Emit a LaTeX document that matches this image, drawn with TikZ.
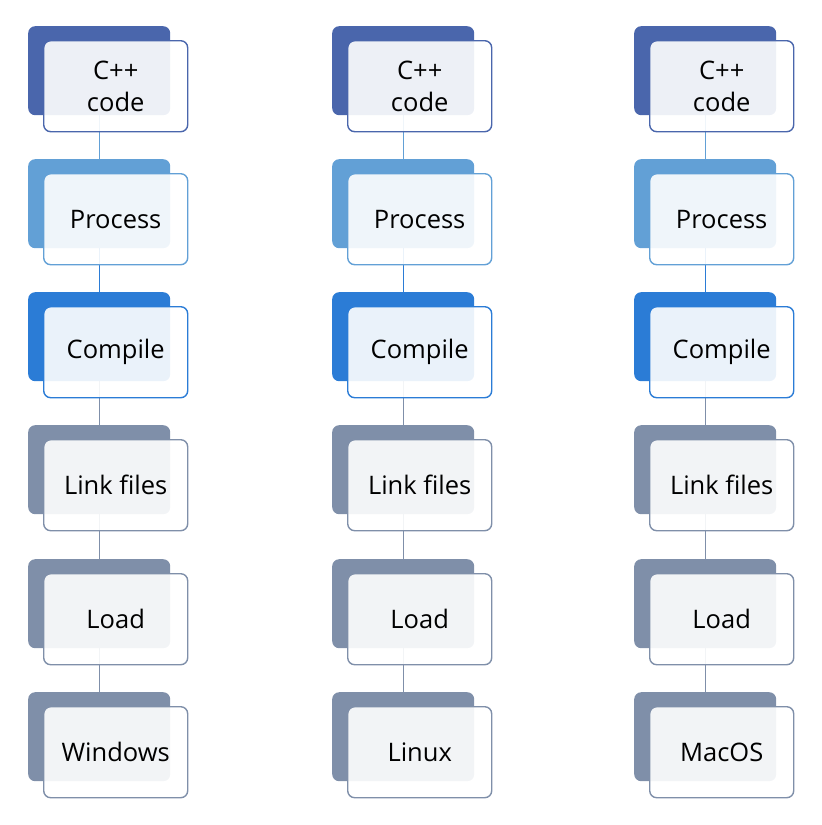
\documentclass[tikz,border=0pt]{standalone}
\usepackage{fontspec}
\setmainfont{Open Sans}
\usetikzlibrary{backgrounds}
\definecolor{cA}{HTML}{4A66AC}
\definecolor{cB}{HTML}{62A0D6}
\definecolor{cC}{HTML}{2B7CD6}
\definecolor{cD}{HTML}{7F8FA9}
\tikzset{
  backbox/.style={anchor=north west, rounded corners=7pt, fill=#1, draw=none,
    minimum width=142pt, minimum height=89pt, inner sep=0pt},
  frontbox/.style={anchor=north west, rounded corners=7pt, fill=white, fill opacity=0.9,
    text opacity=1, draw=#1, draw opacity=1, line width=1.4pt,
    minimum width=144pt, minimum height=91pt, inner sep=0pt, align=center,
    font=\fontsize{25.5}{32}\selectfont},
  link/.style={draw=#1, line width=1.4pt}
}
\begin{document}
\begin{tikzpicture}[x=1pt,y=-1pt]
\useasboundingbox (0,0) rectangle (822,825);
\foreach \c/\cx/\last in {1/28/Windows,2/332/Linux,3/634/MacOS}{
  \foreach \r/\ty/\col/\txt in {1/26/cA/{C++\\code},2/159/cB/Process,3/292/cC/Compile,4/425/cD/Link files,5/559/cD/Load,6/692/cD/\last}{
    \node[backbox=\col] (b\r\c) at (\cx,\ty) {};
    \node[frontbox=\col] (f\r\c) at (\cx+15,\ty+14) {\txt};
  }
  \begin{scope}[on background layer]
    \draw[link=cB] (b1\c.south) -- (b2\c.north);
    \draw[link=cC] (b2\c.south) -- (b3\c.north);
    \draw[link=cD] (b3\c.south) -- (b4\c.north);
    \draw[link=cD] (b4\c.south) -- (b5\c.north);
    \draw[link=cD] (b5\c.south) -- (b6\c.north);
  \end{scope}
}
\end{tikzpicture}
\end{document}
